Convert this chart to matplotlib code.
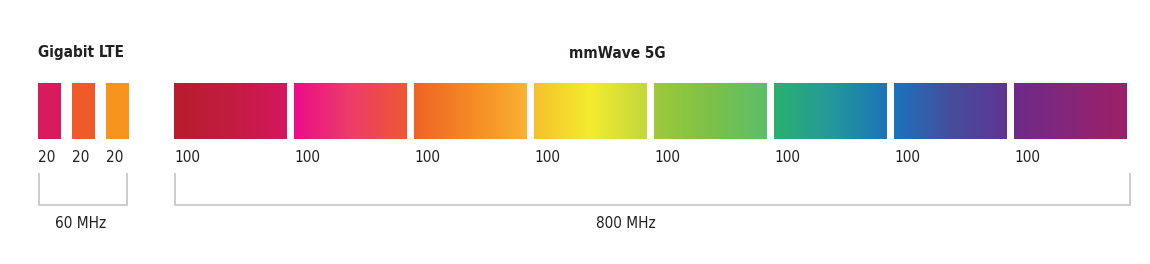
import numpy as np
import matplotlib
matplotlib.use("Agg")
from matplotlib import pyplot as plt
from matplotlib.colors import LinearSegmentedColormap

plt.rcParams['font.family'] = ['DejaVu Sans']
plt.rcParams['font.stretch'] = 'condensed'

# data
lte_title = "Gigabit LTE"
lte_bw = [20, 20, 20]
lte_colors = ["#D81B5E", "#F05A2A", "#F7941E"]
lte_total = "60 MHz"

mm_title = "mmWave 5G"
mm_bw = [100, 100, 100, 100, 100, 100, 100, 100]
mm_gradients = [
    ["#B81D2C", "#C21C3F", "#D5175F"],
    ["#EC0C8A", "#EE3C6A", "#EF5733"],
    ["#F06325", "#F58A25", "#F9B233"],
    ["#F6C12A", "#F4EB2F", "#C2D73C"],
    ["#9DC93B", "#7DC149", "#5DBE6A"],
    ["#2BB06F", "#24999A", "#1C74B8"],
    ["#1A74BE", "#454E9C", "#5E3590"],
    ["#6D2B8A", "#85267A", "#9E2066"],
]
mm_total = "800 MHz"

# layout (pixels)
W, H = 1150, 264
bar_top, bar_bot = 83, 139
text_col = "#231F20"
brk_col = "#C8C8C8"


def positions(bws, x0, scale, gap):
    xs = []
    x = x0
    for b in bws:
        xs.append((x, x + b * scale))
        x += b * scale + gap
    return xs


fig = plt.figure(figsize=(W / 100, H / 100), dpi=100)
ax = fig.add_axes([0, 0, 1, 1])
ax.set_xlim(0, W)
ax.set_ylim(H, 0)
ax.axis('off')

lte_pos = positions(lte_bw, 38, 1.15, 11)
mm_pos = positions(mm_bw, 174, 1.13, 7)

for (x0, x1), c, b in zip(lte_pos, lte_colors, lte_bw):
    ax.fill_between([x0, x1], bar_top, bar_bot, color=c, lw=0)
    ax.text(x0, 158, str(b), fontsize=11, color=text_col, ha='left', va='center')

grad = np.linspace(0, 1, 256).reshape(1, -1)
for (x0, x1), stops, b in zip(mm_pos, mm_gradients, mm_bw):
    cmap = LinearSegmentedColormap.from_list("g", stops)
    ax.imshow(grad, cmap=cmap, aspect='auto', extent=(x0, x1, bar_bot, bar_top),
              interpolation='bilinear')
    ax.text(x0, 158, str(b), fontsize=11, color=text_col, ha='left', va='center')


def bracket(xa, xb):
    ax.plot([xa, xa, xb, xb], [174, 205, 205, 174], color=brk_col, lw=1.3,
            solid_joinstyle='miter')


l0, l1 = lte_pos[0][0], lte_pos[-1][1]
m0, m1 = mm_pos[0][0], mm_pos[-1][1]
bracket(l0 + 1, l1 - 2)
bracket(m0 + 1, m1 + 3)

ax.text(81, 53, lte_title, fontsize=11, fontweight='bold', color=text_col,
        ha='center', va='center')
ax.text(617, 53, mm_title, fontsize=11, fontweight='bold', color=text_col,
        ha='center', va='center')
ax.text(81, 224, lte_total, fontsize=11, color=text_col, ha='center', va='center')
ax.text(626, 224, mm_total, fontsize=11, color=text_col, ha='center', va='center')

fig.savefig("out.png", dpi=100, facecolor='white')
